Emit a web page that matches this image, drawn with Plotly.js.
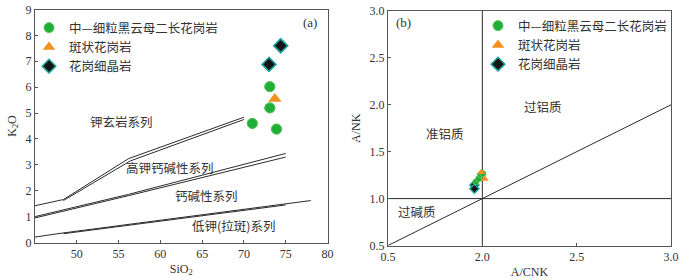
<!DOCTYPE html>
<html><head><meta charset="utf-8">
<script src="https://cdn.plot.ly/plotly-3.0.1.min.js"></script>
<style>html,body{margin:0;padding:0;background:#fff;}#chart{width:699px;height:280px;}</style>
</head><body><div id="chart"></div>
<script>
// ---- Data ----
const seriesNames = ['中—细粒黑云母二长花岗岩', '斑状花岗岩', '花岗细晶岩'];

// Panel (a): SiO2 vs K2O
const graniteSiO2 = [71.0, 73.9, 73.1, 73.1];
const graniteK2O  = [4.6, 4.38, 5.2, 6.02];
const porphSiO2   = [73.7];
const porphK2O    = [5.55];
const apliteSiO2  = [73.0, 74.4];
const apliteK2O   = [6.88, 7.6];

// Boundary lines (double lines) in panel (a)
const shoX1 = [45, 48.4, 56.2, 70.0];  const shoY1 = [1.42, 1.66, 3.24, 4.84];
const shoX2 = [48.4, 56.4, 70.0];      const shoY2 = [1.62, 3.15, 4.75];
const hkX1  = [45, 56.2, 75.0];        const hkY1  = [1.0, 1.86, 3.44];
const hkX2  = [45, 56.2, 75.0];        const hkY2  = [0.95, 1.81, 3.30];
const lkX1  = [45, 48.4, 78.0];        const lkY1  = [0.21, 0.37, 1.62];
const lkX2  = [48.4, 75.0];            const lkY2  = [0.34, 1.45];

// Panel (b): A/CNK vs A/NK
const graniteACNK = [0.966, 0.98, 0.99, 1.003];
const graniteANK  = [1.18, 1.21, 1.255, 1.265];
const porphACNK   = [0.994, 1.013];
const porphANK    = [1.28, 1.21];
const apliteACNK  = [0.958, 0.958];
const apliteANK   = [1.145, 1.105];

const vLineX = [1.0, 1.0];  const vLineY = [0.5, 3.0];
const hLineX = [0.5, 2.0];  const hLineY = [1.0, 1.0];
const dLineX = [0.5, 2.0];  const dLineY = [0.5, 2.0];

const xTicksA = [50, 55, 60, 65, 70, 75, 80];
const yTicksA = [0, 1, 2, 3, 4, 5, 6, 7, 8, 9];
const xTickValsB = [0.5, 1.0, 1.5, 2.0];
const xTickTextB = ['0.5', '2.0', '2.5', '3.0'];
const yTicksB = [0.5, 1.0, 1.5, 2.0, 2.5, 3.0];

// ---- Styles ----
const serif = 'Liberation Serif, DejaVu Serif, serif';
const cjk = 'Noto Sans CJK SC, sans-serif';
const txt = '#333';
const lineC = '#2b2b2b';
const greenM = {symbol: 'circle', color: '#1fae3a', line: {color: '#5cc45a', width: 1}};
const orangeM = {symbol: 'triangle-up', color: '#f4901e', line: {width: 0}};
const diaM = {symbol: 'diamond', color: '#141414', line: {color: '#1aa39a', width: 1.5}};

function ln(x, y, xa, ya) {
  return {x: x, y: y, xaxis: xa, yaxis: ya, mode: 'lines', type: 'scatter',
          line: {color: lineC, width: 1}, showlegend: false, hoverinfo: 'skip'};
}

// Panel (a) point traces; drawn for legend 'legend' and again (overlapping) for 'legend2'
function aTraces(leg) {
  return [
    {x: graniteSiO2, y: graniteK2O, xaxis: 'x', yaxis: 'y', mode: 'markers', type: 'scatter', name: seriesNames[0],
     marker: Object.assign({size: 10}, greenM), legend: leg},
    {x: porphSiO2, y: porphK2O, xaxis: 'x', yaxis: 'y', mode: 'markers', type: 'scatter', name: seriesNames[1],
     marker: Object.assign({size: 11}, orangeM), legend: leg},
    {x: apliteSiO2, y: apliteK2O, xaxis: 'x', yaxis: 'y', mode: 'markers', type: 'scatter', name: seriesNames[2],
     marker: Object.assign({size: 10.5}, diaM), legend: leg}
  ];
}

const traces = [
  ln(shoX1, shoY1, 'x', 'y'), ln(shoX2, shoY2, 'x', 'y'),
  ln(hkX1, hkY1, 'x', 'y'), ln(hkX2, hkY2, 'x', 'y'),
  ln(lkX1, lkY1, 'x', 'y'), ln(lkX2, lkY2, 'x', 'y'),
  ln(vLineX, vLineY, 'x2', 'y2'), ln(hLineX, hLineY, 'x2', 'y2'), ln(dLineX, dLineY, 'x2', 'y2')
].concat(aTraces('legend'), aTraces('legend2'), [
  {x: apliteACNK, y: apliteANK, xaxis: 'x2', yaxis: 'y2', mode: 'markers', type: 'scatter', name: seriesNames[2],
   marker: Object.assign({size: 7}, diaM), showlegend: false},
  {x: graniteACNK, y: graniteANK, xaxis: 'x2', yaxis: 'y2', mode: 'markers', type: 'scatter', name: seriesNames[0],
   marker: Object.assign({size: 6}, greenM), showlegend: false},
  {x: porphACNK, y: porphANK, xaxis: 'x2', yaxis: 'y2', mode: 'markers', type: 'scatter', name: seriesNames[1],
   marker: Object.assign({size: 7}, orangeM), showlegend: false}
]);

const axBase = {
  showgrid: false, zeroline: false, showline: true, mirror: true,
  linecolor: '#555', linewidth: 1, ticks: 'inside', ticklen: 3, tickcolor: '#555',
  tickfont: {family: serif, size: 12, color: txt}
};

function ann(text, x, y, xref, yref, size, fam) {
  return {text: text, x: x, y: y, xref: xref, yref: yref, showarrow: false,
          font: {family: fam || cjk, size: size || 12.5, color: txt}};
}

const layout = {
  width: 699, height: 280,
  margin: {l: 0, r: 0, t: 0, b: 0},
  paper_bgcolor: '#fff', plot_bgcolor: '#fff',
  showlegend: true,
  xaxis: Object.assign({}, axBase, {domain: [35/699, 327.5/699], range: [45, 80], tickvals: xTicksA,
    title: {text: 'SiO<sub>2</sub>', font: {family: serif, size: 12, color: txt}, standoff: 4}}),
  yaxis: Object.assign({}, axBase, {domain: [1 - 242.5/280, 1 - 9.5/280], range: [0, 9], tickvals: yTicksA,
    title: {text: 'K<sub>2</sub>O', font: {family: serif, size: 12, color: txt}, standoff: 6}}),
  xaxis2: Object.assign({}, axBase, {domain: [388/699, 671/699], range: [0.5, 2.0], tickvals: xTickValsB, ticktext: xTickTextB,
    anchor: 'y2', title: {text: 'A/CNK', font: {family: serif, size: 12, color: txt}, standoff: 4}}),
  yaxis2: Object.assign({}, axBase, {domain: [1 - 245.5/280, 1 - 11/280], range: [0.5, 3.0], tickvals: yTicksB, tickformat: '.1f',
    anchor: 'x2', title: {text: 'A/NK', font: {family: serif, size: 12, color: txt}, standoff: 6}}),
  legend: {x: 29/699, y: 1 - 13/280, xanchor: 'left', yanchor: 'top', bgcolor: 'rgba(0,0,0,0)',
    font: {family: cjk, size: 12.5, color: txt}, itemwidth: 30, tracegroupgap: 0, traceorder: 'normal'},
  legend2: {x: 478/699, y: 1 - 11/280, xanchor: 'left', yanchor: 'top', bgcolor: 'rgba(0,0,0,0)',
    font: {family: cjk, size: 12.5, color: txt}, itemwidth: 30, tracegroupgap: 0, traceorder: 'normal'},
  annotations: [
    ann('钾玄岩系列', 55.3, 4.66, 'x', 'y'),
    ann('高钾钙碱性系列', 61.2, 2.9, 'x', 'y'),
    ann('钙碱性系列', 65.5, 1.82, 'x', 'y'),
    ann('低钾(拉斑)系列', 68.7, 0.65, 'x', 'y'),
    ann('(a)', 77.85, 8.5, 'x', 'y', 13, serif),
    ann('(b)', 0.583, 2.88, 'x2', 'y2', 13, serif),
    ann('过铝质', 1.32, 1.98, 'x2', 'y2'),
    ann('准铝质', 0.80, 1.69, 'x2', 'y2'),
    ann('过碱质', 0.652, 0.86, 'x2', 'y2')
  ]
};

Plotly.newPlot('chart', traces, layout, {displayModeBar: false, staticPlot: true});
</script>
</body></html>
